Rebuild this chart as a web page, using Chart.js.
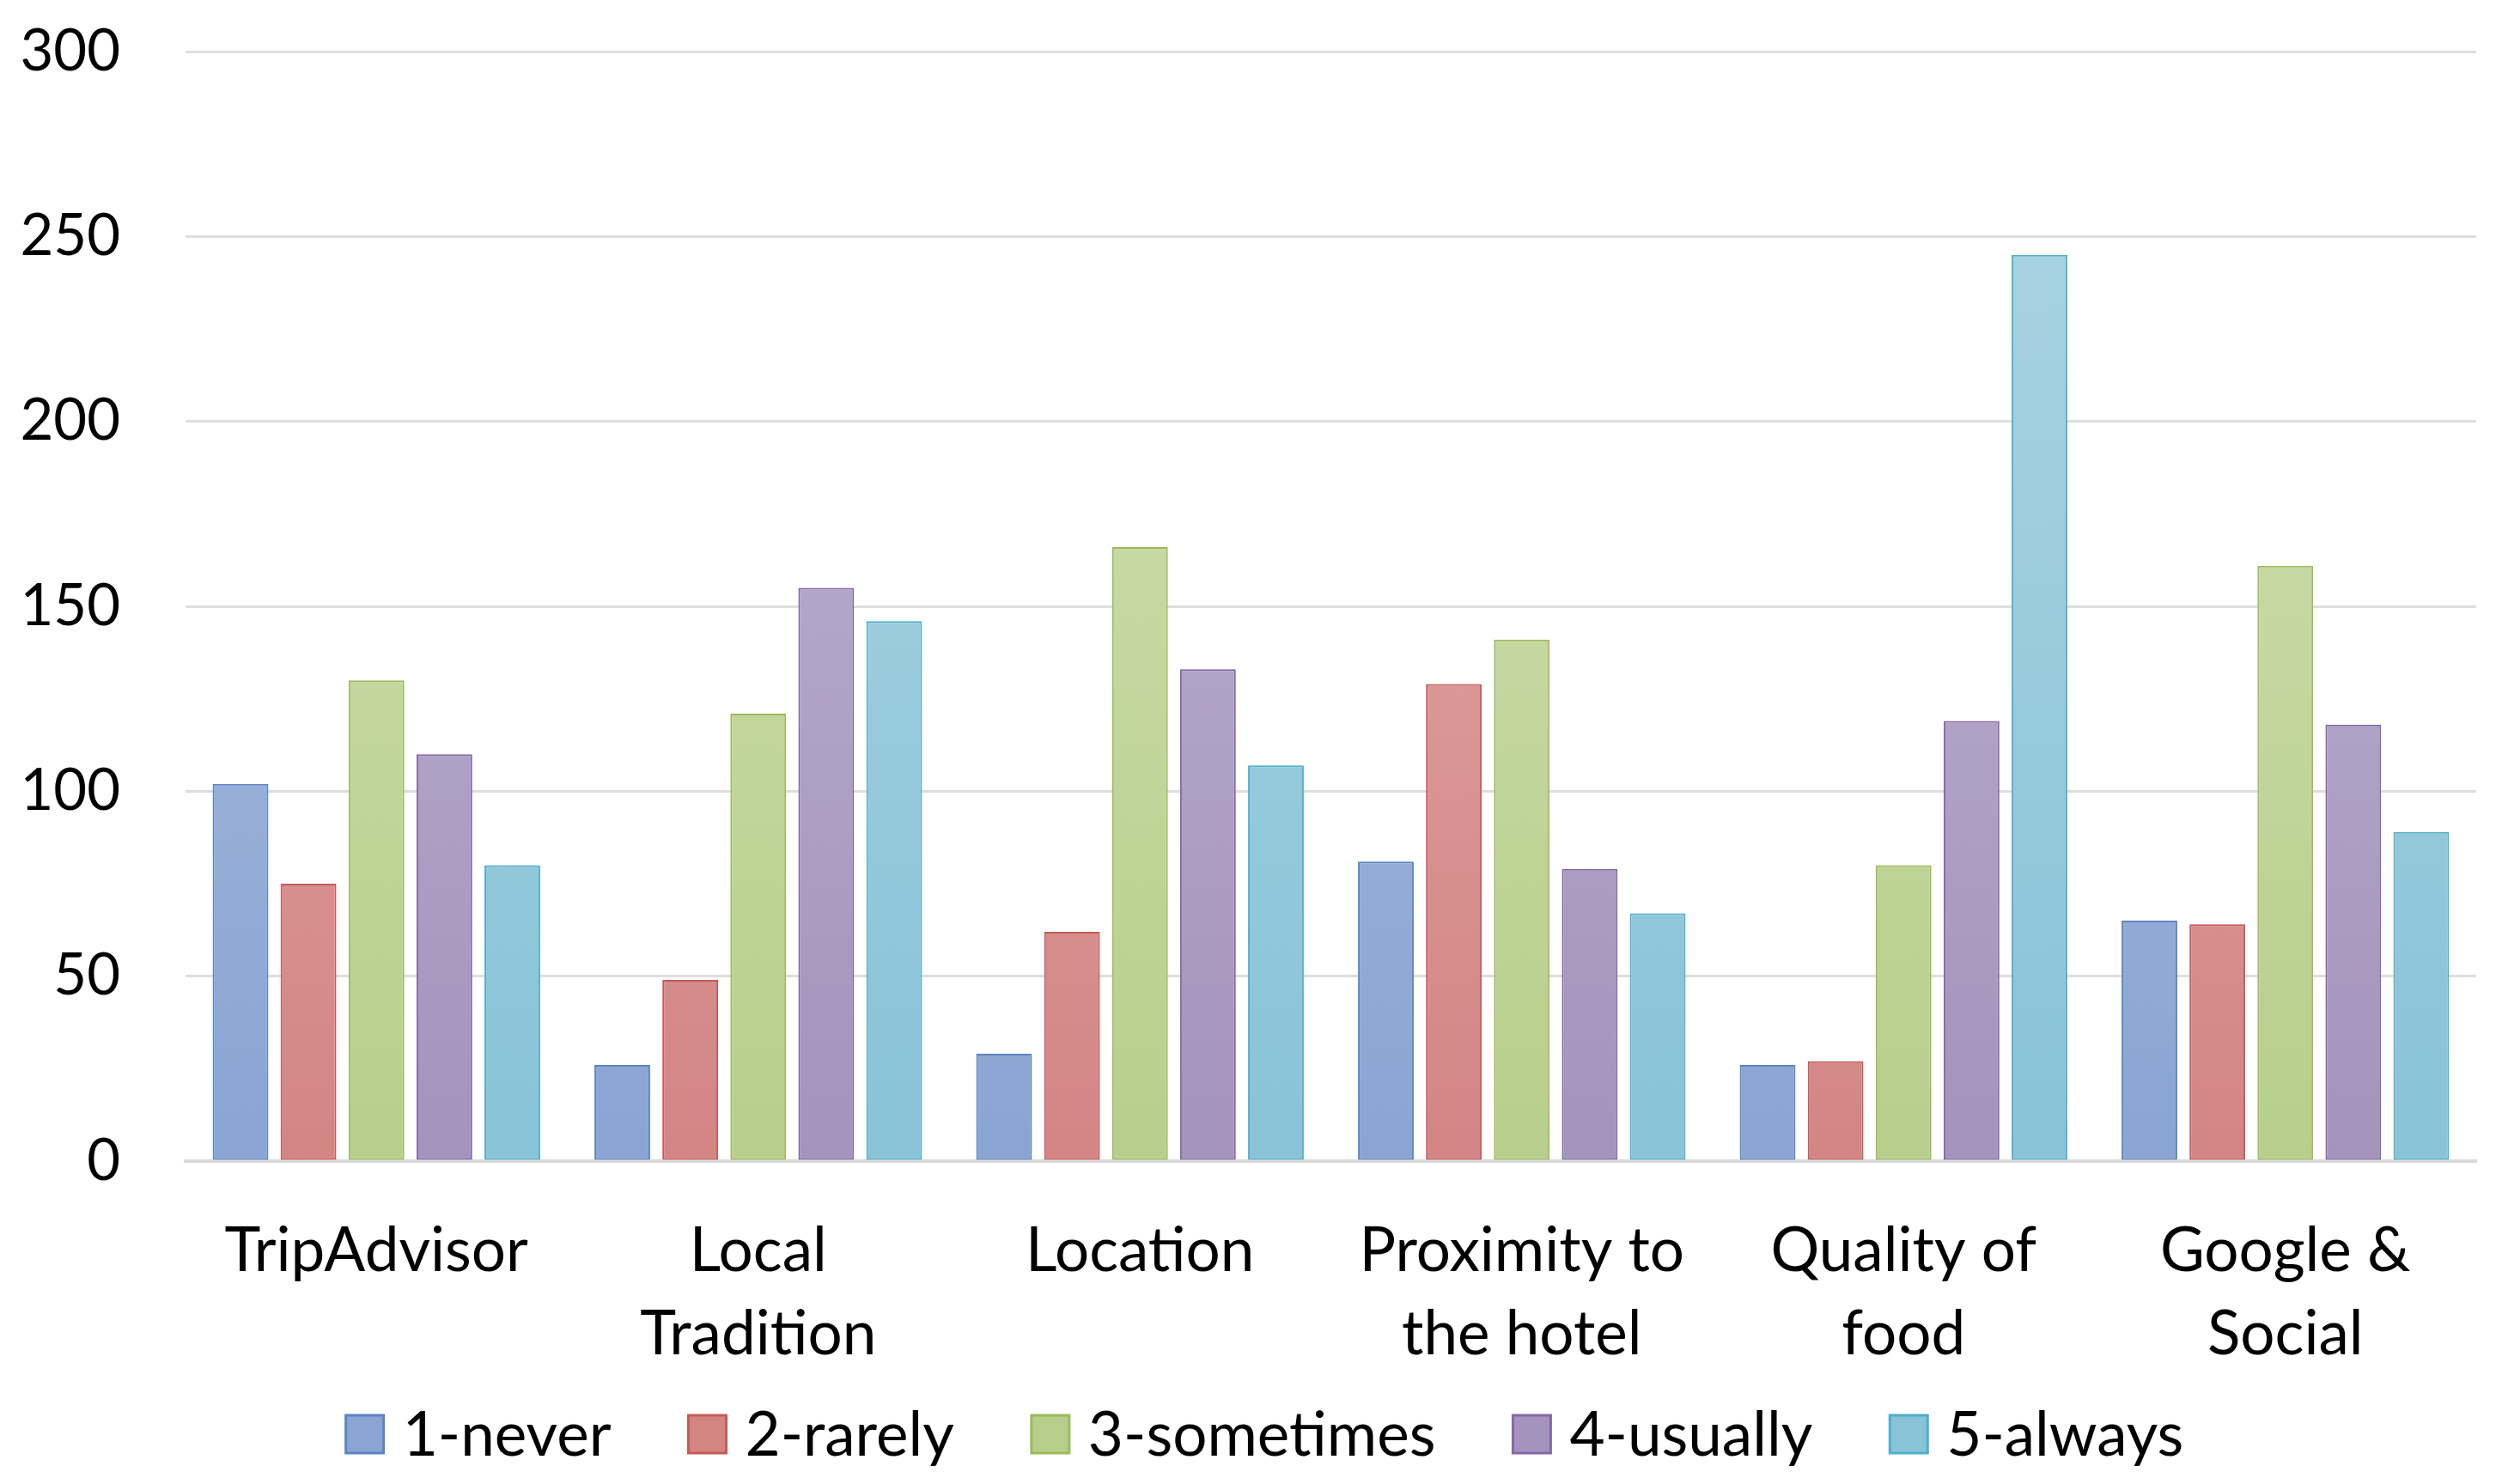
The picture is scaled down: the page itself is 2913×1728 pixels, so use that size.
<!DOCTYPE html>
<html>
<head>
<meta charset="utf-8">
<script src="https://cdn.jsdelivr.net/npm/chart.js@4/dist/chart.umd.min.js"></script>
<style>
  html, body { margin: 0; padding: 0; background: #fff; }
  #wrap { width: 2913px; height: 1728px; position: relative; }
</style>
</head>
<body>
<div id="wrap"><canvas id="surveyChart"></canvas></div>
<script>
const categories = [
  'TripAdvisor',
  ['Local', 'Tradition'],
  'Location',
  ['Proximity to', 'the hotel'],
  ['Quality of', 'food'],
  ['Google &', 'Social']
];

const seriesNames = ['1-never', '2-rarely', '3-sometimes', '4-usually', '5-always'];

const never     = [102, 26, 29, 81, 26, 65];
const rarely    = [75, 49, 62, 129, 27, 64];
const sometimes = [130, 121, 166, 141, 80, 161];
const usually   = [110, 155, 133, 79, 119, 118];
const always    = [80, 146, 107, 67, 245, 89];

const yTicks = [0, 50, 100, 150, 200, 250, 300];

// top colour, bottom colour, border
const palette = [
  ['#afc0e0', '#8aa5d3', '#5b84c4'],
  ['#e3afae', '#d38584', '#c55a58'],
  ['#d2e1b6', '#b7cf8b', '#9bbb59'],
  ['#c2b7d5', '#a493bd', '#8468a6'],
  ['#aed5e4', '#88c3d7', '#4fb0ca']
];

const values = [never, rarely, sometimes, usually, always];

function barGradient(idx) {
  return function (ctx) {
    const chart = ctx.chart;
    const area = chart.chartArea;
    if (!area) return palette[idx][1];
    const g = chart.ctx.createLinearGradient(0, area.top, 0, area.bottom);
    g.addColorStop(0, palette[idx][0]);
    g.addColorStop(1, palette[idx][1]);
    return g;
  };
}

const datasets = seriesNames.map((name, i) => ({
  label: name,
  data: values[i],
  backgroundColor: barGradient(i),
  borderColor: palette[i][2],
  borderWidth: 2,
  borderSkipped: false,
  barPercentage: 0.82,
  categoryPercentage: 0.89
}));

const FONT = 'Lato, "Open Sans", sans-serif';

// legend row drawn under the category labels, Excel style
const bottomLegend = {
  id: 'bottomLegend',
  afterDraw(chart) {
    const ctx = chart.ctx;
    const box = 44, textGap = 22, itemGap = 90;
    ctx.save();
    ctx.font = '71px ' + FONT;
    ctx.textBaseline = 'middle';
    ctx.textAlign = 'left';
    const widths = seriesNames.map(n => box + textGap + ctx.measureText(n).width);
    const total = widths.reduce((a, b) => a + b, 0) + itemGap * (widths.length - 1);
    let x = chart.width / 2 + 16 - total / 2;
    const y = chart.height - 58;
    seriesNames.forEach((name, i) => {
      ctx.fillStyle = palette[i][1];
      ctx.fillRect(x, y - box / 2, box, box);
      ctx.strokeStyle = palette[i][2];
      ctx.lineWidth = 3;
      ctx.strokeRect(x, y - box / 2, box, box);
      ctx.fillStyle = '#000';
      ctx.fillText(name, x + box + textGap, y + 2);
      x += widths[i] + itemGap;
    });
    ctx.restore();
  }
};

new Chart(document.getElementById('surveyChart'), {
  type: 'bar',
  data: { labels: categories, datasets: datasets },
  plugins: [bottomLegend],
  options: {
    responsive: true,
    maintainAspectRatio: false,
    animation: false,
    devicePixelRatio: 1,
    layout: { padding: { top: 0, right: 30, left: 0, bottom: 120 } },
    scales: {
      x: {
        grid: { display: false, drawTicks: false },
        border: { color: '#d9d9d9', width: 4 },
        afterFit: axis => { axis.height = 256; },
        ticks: {
          color: '#000',
          padding: 56,
          maxRotation: 0,
          autoSkip: false,
          font: { family: FONT, size: 71, lineHeight: 1.37 }
        }
      },
      y: {
        min: 0,
        max: 300,
        afterBuildTicks: axis => { axis.ticks = yTicks.map(v => ({ value: v })); },
        afterFit: axis => {
          axis.width = 216;
          axis.paddingTop = 60;
          axis.paddingBottom = 40;
        },
        grid: { color: '#dedede', lineWidth: 3, drawTicks: false },
        border: { display: false },
        ticks: {
          color: '#000',
          padding: 76,
          font: { family: FONT, size: 67 }
        }
      }
    },
    plugins: {
      tooltip: { enabled: false },
      legend: { display: false }
    }
  }
});
</script>
</body>
</html>
